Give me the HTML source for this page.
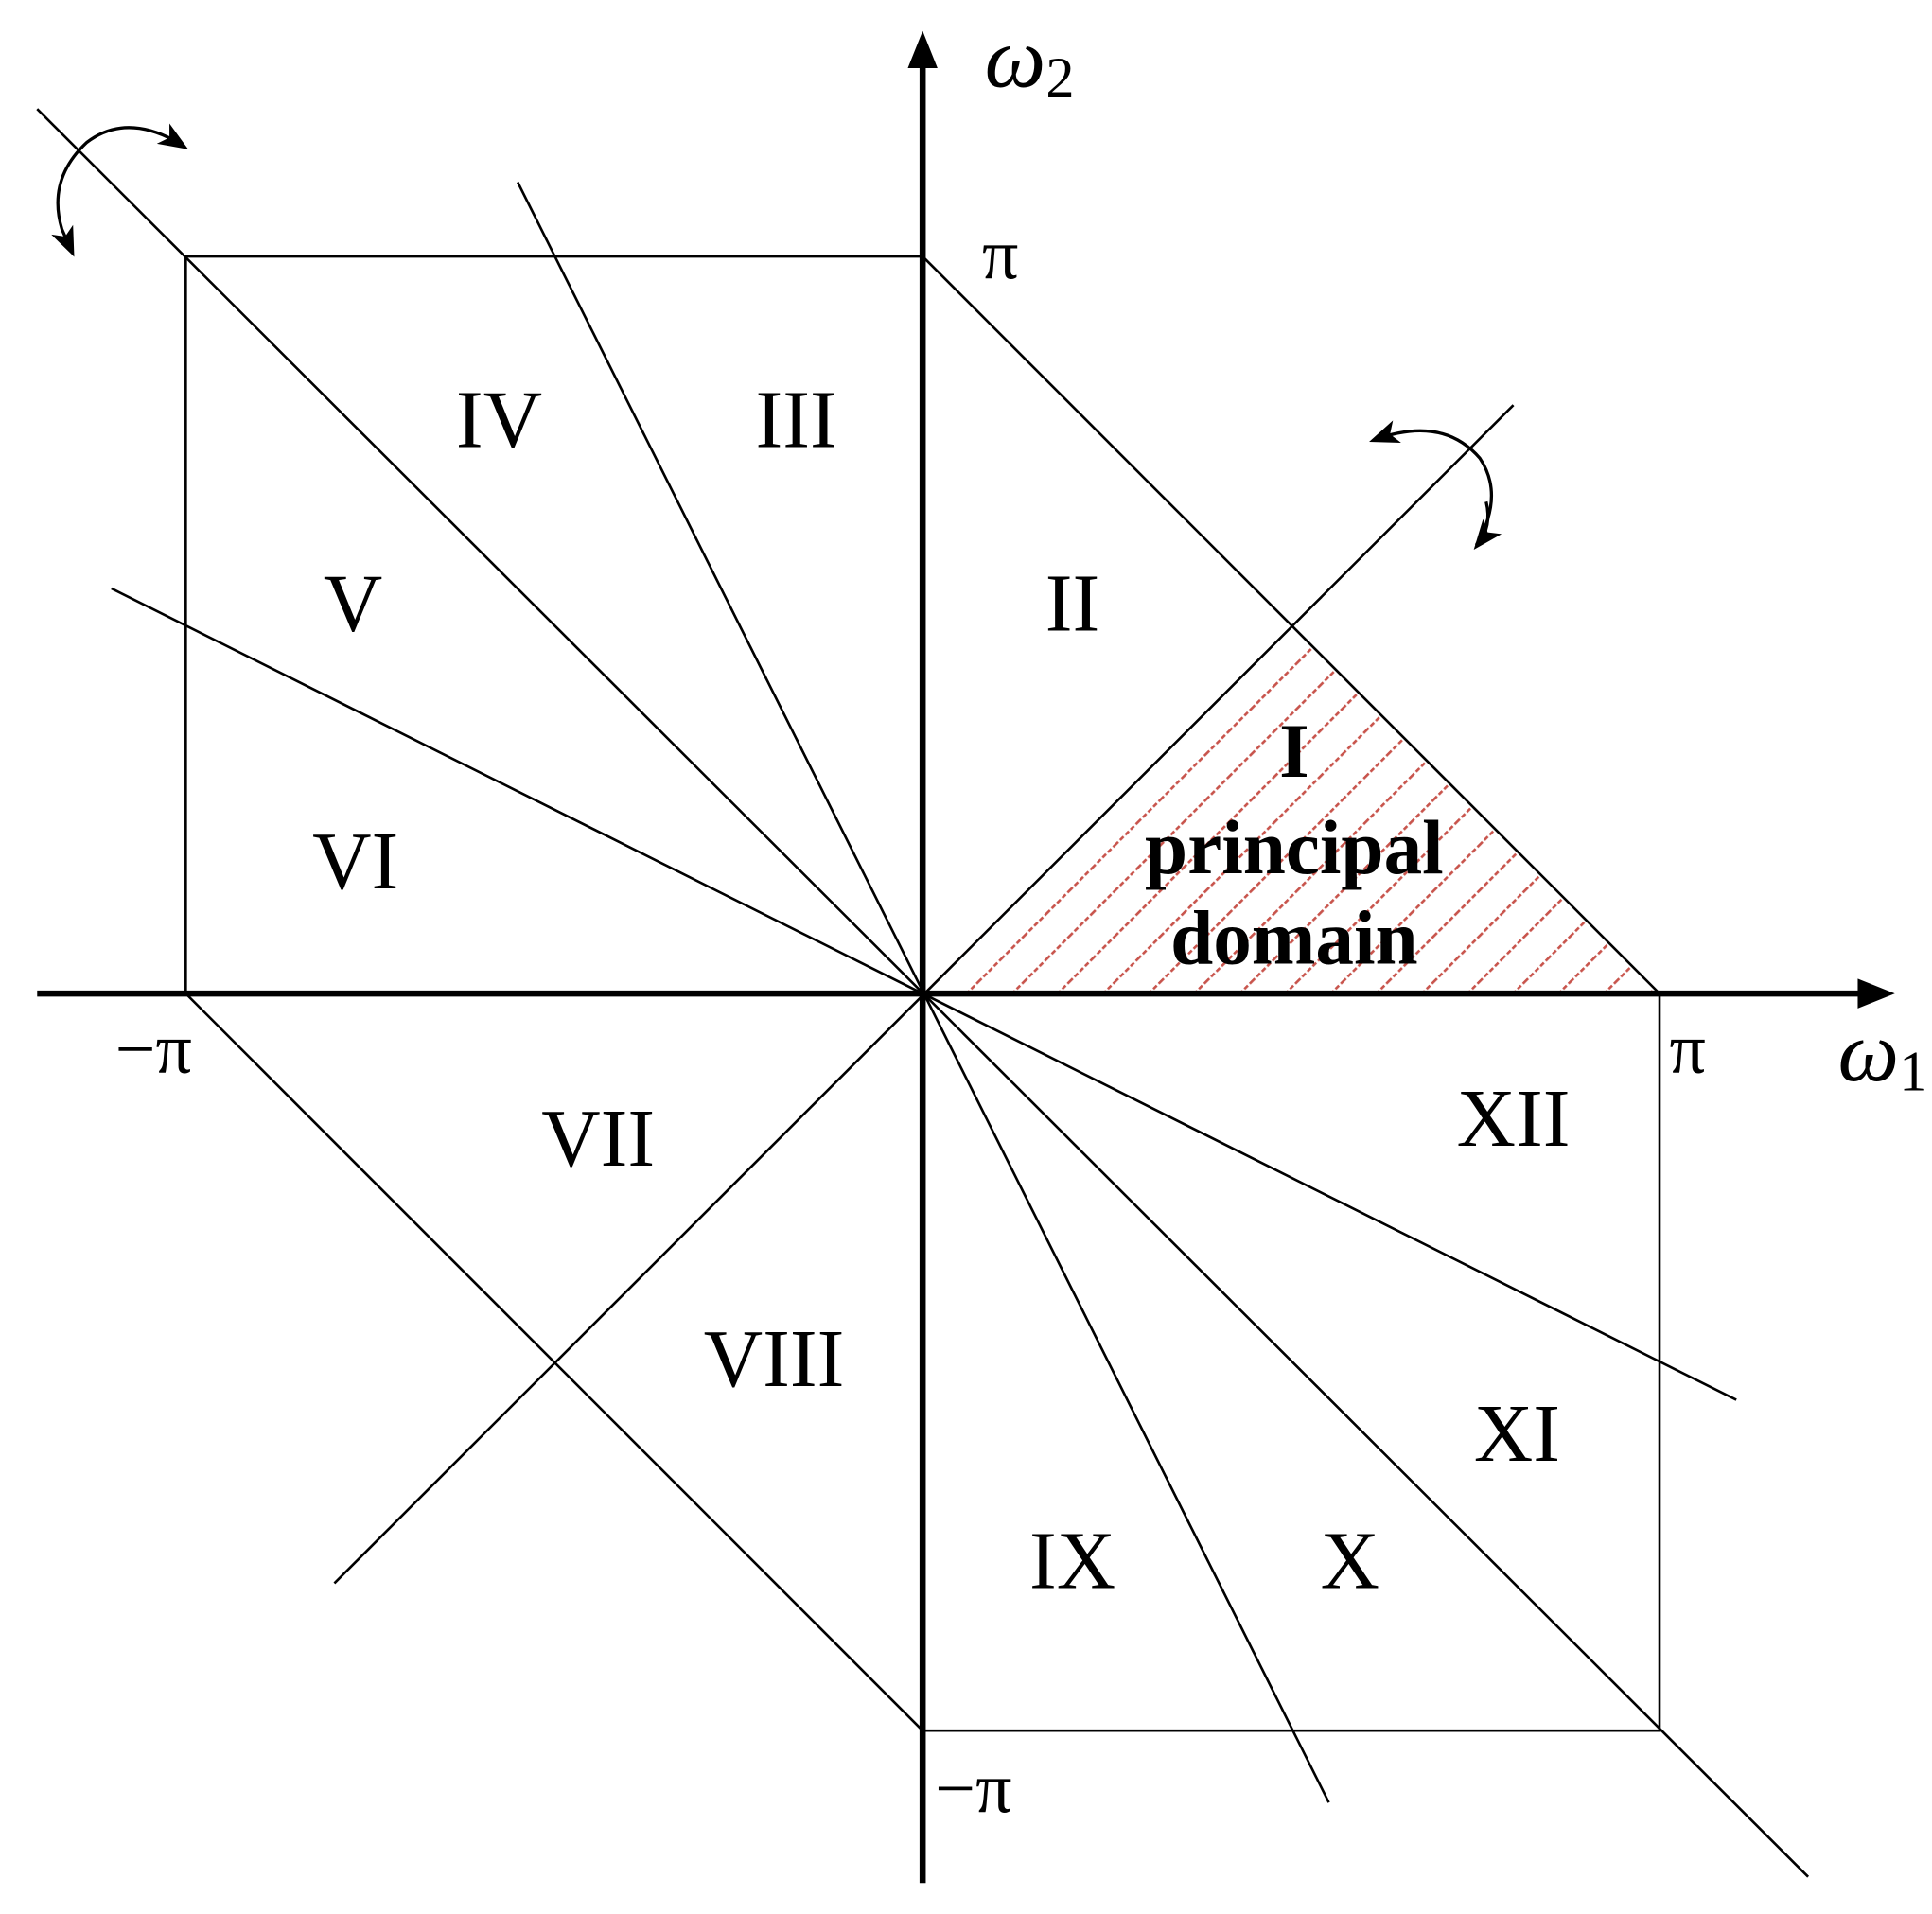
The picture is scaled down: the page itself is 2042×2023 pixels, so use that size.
<!DOCTYPE html>
<html><head><meta charset="utf-8"><style>
html,body{margin:0;padding:0;background:#fff}
svg{display:block}
text{font-family:"Liberation Serif",serif;fill:#000}
</style></head><body>
<svg width="2042" height="2023" viewBox="0 0 1560 1545" preserveAspectRatio="none" xmlns="http://www.w3.org/2000/svg">
<defs>
<pattern id="h" patternUnits="userSpaceOnUse" width="26" height="26" patternTransform="rotate(45)">
<line x1="0" y1="0" x2="0" y2="26" stroke="#c8544c" stroke-width="4" stroke-dasharray="4 2"/>
</pattern>
<marker id="s" viewBox="0 0 10 10" refX="8" refY="5" markerWidth="24" markerHeight="24" orient="auto" markerUnits="userSpaceOnUse">
<path d="M0,1 L10,5 L0,9 L2.5,5 z" fill="#000"/>
</marker>
</defs>
<polygon points="745,802 1043,505 1340,802" fill="url(#h)"/>
<g stroke="#000" stroke-width="2" fill="none">
<polyline points="745,207 150,207 150,802"/>
<polyline points="745,1397 1340,1397 1340,802"/>
<line x1="30" y1="88" x2="1460" y2="1515"/>
<line x1="270" y1="1278" x2="1222" y2="327"/>
<line x1="745" y1="207" x2="1340" y2="802"/>
<line x1="150" y1="802" x2="745" y2="1397"/>
<line x1="418" y1="147" x2="1073" y2="1455"/>
<line x1="90" y1="475" x2="1402" y2="1130"/>
</g>
<g stroke="#000" stroke-width="5">
<line x1="30" y1="802" x2="1505" y2="802"/>
<line x1="745" y1="1520" x2="745" y2="50"/>
</g>
<polygon points="1530,802 1500,790 1500,814" fill="#000"/>
<polygon points="745,25 733,55 757,55" fill="#000"/>
<g stroke="#000" stroke-width="2.5" fill="none">
<path d="M140,113 Q100,92 70,115 Q38,145 50,185 L58,203" marker-end="url(#s)"/>
<path d="M140,113 L148,118" marker-end="url(#s)"/>
<path d="M1192,440 Q1215,400 1195,370 Q1165,335 1110,355" marker-end="url(#s)"/>
<path d="M1200,405 Q1205,425 1193,440" marker-end="url(#s)"/>
</g>
<g font-size="66" text-anchor="middle">
<text x="403" y="361">IV</text>
<text x="643" y="361">III</text>
<text x="866" y="509">II</text>
<text x="285" y="509">V</text>
<text x="287" y="717">VI</text>
<text x="483" y="941">VII</text>
<text x="625" y="1119">VIII</text>
<text x="866" y="1282">IX</text>
<text x="1090" y="1282">X</text>
<text x="1225" y="1179">XI</text>
<text x="1222" y="925">XII</text>
</g>
<g font-size="62" font-weight="bold" text-anchor="middle">
<text x="1045" y="627">I</text>
<text x="1045" y="705">principal</text>
<text x="1045" y="778">domain</text>
</g>
<g font-size="58">
<text x="793" y="225">π</text>
<text x="93" y="866">−π</text>
<text x="1348" y="866">π</text>
<text x="755" y="1463">−π</text>
</g>
<text x="795" y="70" font-size="70" font-style="italic">ω<tspan font-size="46" font-style="normal" dy="8">2</tspan></text>
<text x="1484" y="872" font-size="70" font-style="italic">ω<tspan font-size="46" font-style="normal" dy="8">1</tspan></text>
</svg>
</body></html>
